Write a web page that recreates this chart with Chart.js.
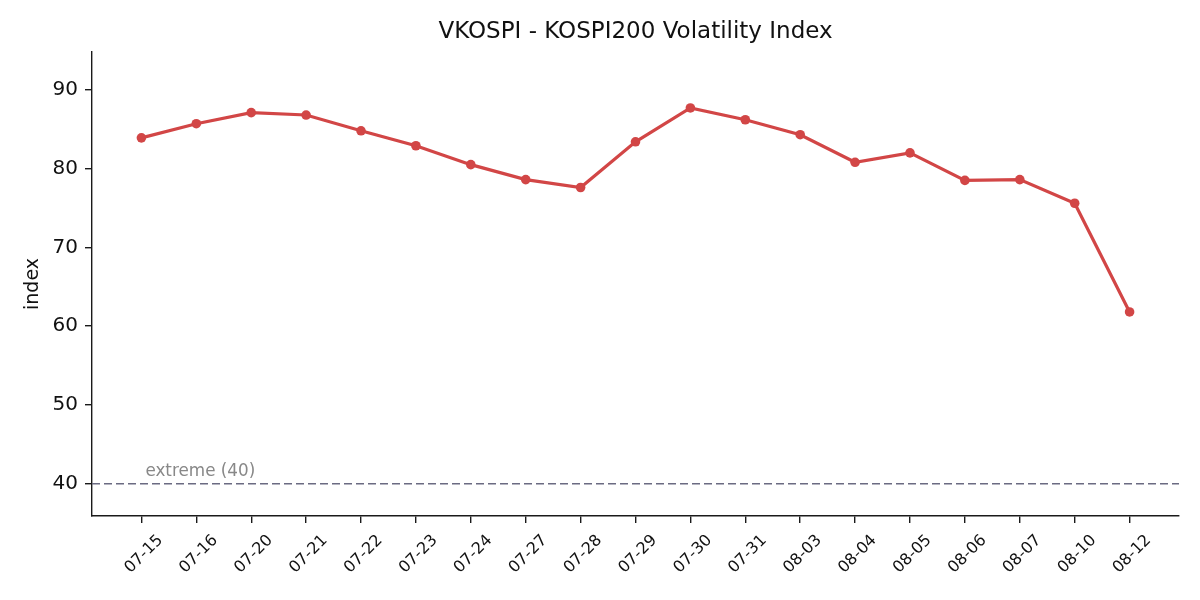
<!DOCTYPE html>
<html>
<head>
<meta charset="utf-8">
<style>
  html, body { margin: 0; padding: 0; background: #fff; }
  #wrap { width: 1200px; height: 600px; }
</style>
<script src="https://cdn.jsdelivr.net/npm/chart.js@4/dist/chart.umd.min.js"></script>
</head>
<body>
<div id="wrap"><canvas id="chart" width="1200" height="600"></canvas></div>
<script>
// VKOSPI 일별 값
var dates = ["07-15", "07-16", "07-20", "07-21", "07-22", "07-23", "07-24", "07-27", "07-28", "07-29",
             "07-30", "07-31", "08-03", "08-04", "08-05", "08-06", "08-07", "08-10", "08-12"];
var vkospi = [83.9, 85.7, 87.1, 86.8, 84.8, 82.9, 80.5, 78.6, 77.6, 83.4,
              87.7, 86.2, 84.3, 80.8, 82.0, 78.5, 78.6, 75.6, 61.8];
var yTicks = [40, 50, 60, 70, 80, 90];
var extremeLevel = 40;
var extremeLabel = "extreme (40)";
var chartTitle = "VKOSPI - KOSPI200 Volatility Index";

(function () {
    "use strict";

    var FONT = "'DejaVu Sans', sans-serif";
    var INK = "#1a1a1a";

    var points = vkospi.map(function (v, i) { return { x: i, y: v }; });
    var xMin = -0.9, xMax = dates.length - 1 + 0.9;
    var refLine = [{ x: xMin, y: extremeLevel }, { x: xMax, y: extremeLevel }];

    // 제목(플롯 영역 기준 가운데) + 임계선 주석 텍스트
    var annotate = {
        id: "annotate",
        afterDatasetsDraw: function (chart) {
            var ctx = chart.ctx;
            var xs = chart.scales.x, ys = chart.scales.y;
            var area = chart.chartArea;
            ctx.save();
            ctx.font = "23px " + FONT;
            ctx.fillStyle = "#111";
            ctx.textAlign = "center";
            ctx.textBaseline = "middle";
            ctx.fillText(chartTitle, (area.left + area.right) / 2, 32);

            ctx.font = "16.8px " + FONT;
            ctx.fillStyle = "#888888";
            ctx.textAlign = "left";
            ctx.textBaseline = "alphabetic";
            ctx.fillText(extremeLabel, xs.getPixelForValue(0) + 4, ys.getPixelForValue(extremeLevel) - 8);
            ctx.restore();
        }
    };

    new Chart(document.getElementById("chart"), {
        type: "line",
        data: {
            datasets: [
                {
                    label: "VKOSPI",
                    data: points,
                    borderColor: "#d24646",
                    backgroundColor: "#d24646",
                    borderWidth: 3.2,
                    pointRadius: 4.8,
                    pointHoverRadius: 4.8,
                    pointBorderWidth: 0,
                    tension: 0,
                    order: 1
                },
                {
                    label: "extreme",
                    data: refLine,
                    borderColor: "#6b6b82",
                    borderWidth: 1.5,
                    borderDash: [8, 4],
                    pointRadius: 0,
                    fill: false,
                    order: 2
                }
            ]
        },
        options: {
            responsive: false,
            animation: false,
            devicePixelRatio: 1,
            layout: { padding: { left: 0, right: 21, top: 52, bottom: 0 } },
            plugins: {
                legend: { display: false },
                tooltip: { enabled: false },
                title: { display: false }
            },
            scales: {
                x: {
                    type: "linear",
                    min: xMin,
                    max: xMax,
                    afterBuildTicks: function (scale) {
                        scale.ticks = dates.map(function (d, i) { return { value: i }; });
                    },
                    afterFit: function (scale) { scale.height = 84; },
                    grid: { drawOnChartArea: false, drawTicks: true, tickLength: 7, color: INK, lineWidth: 1.4 },
                    border: { display: true, color: INK, width: 1.4 },
                    ticks: {
                        color: "#111",
                        font: { family: FONT, size: 16 },
                        minRotation: 45,
                        maxRotation: 45,
                        padding: 8,
                        labelOffset: 19,
                        autoSkip: false,
                        callback: function (v) { return dates[v]; }
                    }
                },
                y: {
                    min: 35.9,
                    max: 94.8,
                    afterBuildTicks: function (scale) {
                        scale.ticks = yTicks.map(function (t) { return { value: t }; });
                    },
                    afterFit: function (scale) { scale.width = 92; },
                    grid: { drawOnChartArea: false, drawTicks: true, tickLength: 7, color: INK, lineWidth: 1.4 },
                    border: { display: true, color: INK, width: 1.4 },
                    ticks: {
                        color: "#111",
                        font: { family: FONT, size: 20 },
                        padding: 7
                    },
                    title: {
                        display: true,
                        text: "index",
                        color: "#111",
                        font: { family: FONT, size: 19 },
                        padding: { top: 22, bottom: 0 }
                    }
                }
            }
        },
        plugins: [annotate]
    });
})();
</script>
</body>
</html>
